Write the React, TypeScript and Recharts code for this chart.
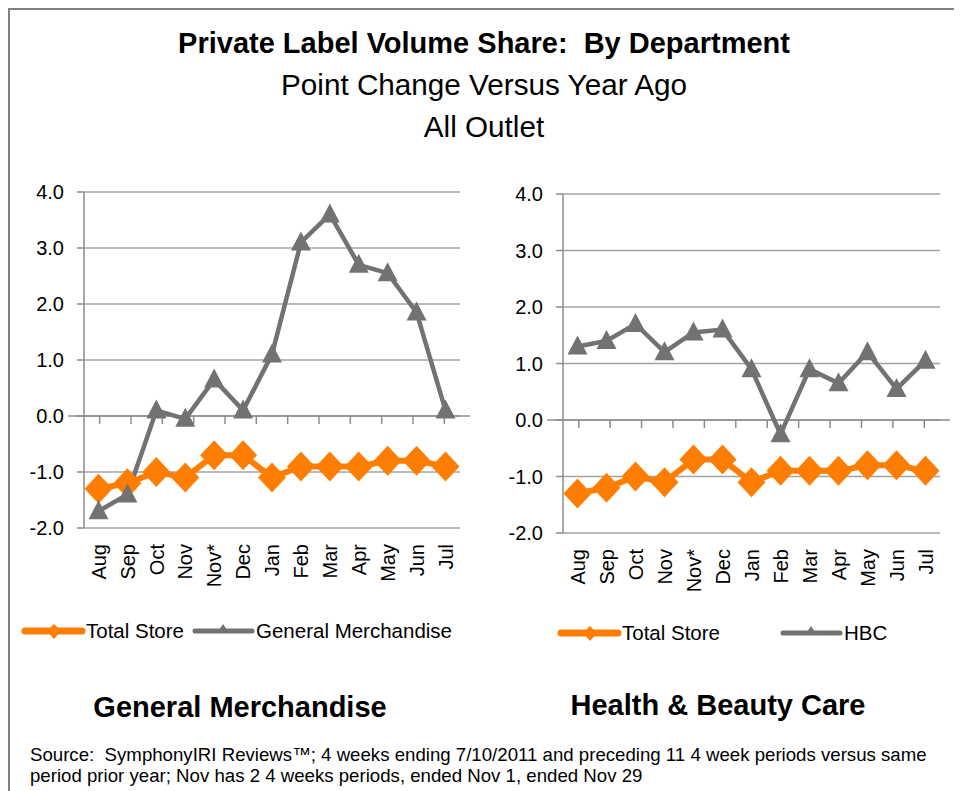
import { LineChart, Line, XAxis, YAxis, CartesianGrid, ReferenceLine } from 'recharts'

const months = ['Aug', 'Sep', 'Oct', 'Nov', 'Nov*', 'Dec', 'Jan', 'Feb', 'Mar', 'Apr', 'May', 'Jun', 'Jul']
const totalStore = [-1.3, -1.2, -1.0, -1.1, -0.7, -0.7, -1.1, -0.9, -0.9, -0.9, -0.8, -0.8, -0.9]
const generalMerchandise = [-1.7, -1.4, 0.1, -0.05, 0.65, 0.1, 1.1, 3.1, 3.6, 2.7, 2.55, 1.85, 0.1]
const hbc = [1.3, 1.4, 1.7, 1.2, 1.55, 1.6, 0.9, -0.25, 0.9, 0.65, 1.2, 0.55, 1.05]
const yTicks = [-2, -1, 0, 1, 2, 3, 4]

const ORANGE = '#FF7D00'
const GREY = '#727272'
const AXIS = '#8c8c8c'
const FONT = '"Liberation Sans", Arial, sans-serif'

function Diamond(props: any) {
  const { cx, cy } = props
  if (cx == null || cy == null) return null
  return <path d={`M${cx},${cy - 15}L${cx + 14},${cy}L${cx},${cy + 15}L${cx - 14},${cy}Z`} fill={ORANGE} />
}

function Triangle(props: any) {
  const { cx, cy } = props
  if (cx == null || cy == null) return null
  return <path d={`M${cx},${cy - 11}L${cx + 10},${cy + 8}L${cx - 10},${cy + 8}Z`} fill={GREY} />
}

function MonthTick(props: any) {
  const { x, y, payload } = props
  const ty = y + 16
  return (
    <text x={x} y={ty} dy="0.36em" textAnchor="end" fontSize={20} fill="#000" transform={`rotate(-90, ${x}, ${ty})`}>
      {payload.value}
    </text>
  )
}

// category axis sits on the zero line, tick marks between categories
function ZeroAxis(props: any) {
  const { x1, x2, y1 } = props
  const n = months.length
  const step = (x2 - x1) / (n - 1)
  const start = x1 - step / 2
  return (
    <g>
      <line x1={start} x2={x2 + step / 2} y1={y1} y2={y1} stroke={AXIS} strokeWidth={1.5} />
      {months.map((_, i) => (
        <line key={i} x1={start + (i + 1) * step} x2={start + (i + 1) * step} y1={y1} y2={y1 + 8} stroke={AXIS} strokeWidth={1.5} />
      ))}
    </g>
  )
}

function Panel({ values, left, top, margin }: { values: number[]; left: number; top: number; margin: any }) {
  const data = months.map((m, i) => ({ month: m, total: totalStore[i], dept: values[i] }))
  return (
    <div style={{ position: 'absolute', left, top }}>
      <LineChart width={450} height={420} data={data} margin={margin}>
        <CartesianGrid vertical={false} stroke="#a3a3a3" strokeWidth={1.5} />
        <XAxis
          dataKey="month"
          interval={0}
          axisLine={false}
          tickLine={false}
          tickSize={0}
          tickMargin={0}
          height={60}
          padding={{ left: 14.5, right: 14.5 }}
          tick={<MonthTick />}
        />
        <YAxis
          domain={[-2, 4]}
          ticks={yTicks}
          width={50}
          tickSize={7}
          tickMargin={13}
          tickFormatter={(v: number) => v.toFixed(1)}
          tick={{ fill: '#000', fontSize: 20 }}
          axisLine={{ stroke: AXIS, strokeWidth: 1.5 }}
          tickLine={{ stroke: AXIS, strokeWidth: 1.5 }}
        />
        <ReferenceLine y={0} shape={<ZeroAxis />} />
        <Line
          type="linear"
          dataKey="total"
          stroke={ORANGE}
          strokeWidth={6}
          dot={<Diamond />}
          activeDot={false}
          isAnimationActive={false}
        />
        <Line
          type="linear"
          dataKey="dept"
          stroke={GREY}
          strokeWidth={4.5}
          dot={<Triangle />}
          activeDot={false}
          isAnimationActive={false}
        />
      </LineChart>
    </div>
  )
}

function LegendRow({ left, top, items }: { left: number; top: number; items: { x: number; label: string; kind: 'd' | 't' }[] }) {
  return (
    <svg style={{ position: 'absolute', left, top }} width={470} height={30}>
      {items.map((it) => (
        <g key={it.label}>
          <line
            x1={it.x}
            x2={it.x + 57}
            y1={15}
            y2={15}
            stroke={it.kind === 'd' ? ORANGE : GREY}
            strokeWidth={it.kind === 'd' ? 7 : 5}
            strokeLinecap="round"
          />
          {it.kind === 'd' ? (
            <path d={`M${it.x + 29},8L${it.x + 36},15L${it.x + 29},23L${it.x + 22},15Z`} fill={ORANGE} />
          ) : (
            <path d={`M${it.x + 28},8L${it.x + 34},17L${it.x + 22},17Z`} fill={GREY} />
          )}
          <text x={it.x + 61} y={15} dy="0.36em" fontSize={20.5} fill="#000">
            {it.label}
          </text>
        </g>
      ))}
    </svg>
  )
}

export default function App() {
  return (
    <div
      style={{
        position: 'relative',
        width: 948,
        height: 800,
        border: '2px solid #7f7f7f',
        background: '#fff',
        fontFamily: FONT,
        color: '#000',
      }}
    >
      <div style={{ position: 'absolute', left: 0, width: 948, top: 16, lineHeight: '34px', textAlign: 'center', fontSize: 29, fontWeight: 'bold' }}>
        Private Label Volume Share:&nbsp; By Department
      </div>
      <div style={{ position: 'absolute', left: 0, width: 948, top: 58, lineHeight: '34px', textAlign: 'center', fontSize: 29.7 }}>
        Point Change Versus Year Ago
      </div>
      <div style={{ position: 'absolute', left: 0, width: 948, top: 100, lineHeight: '34px', textAlign: 'center', fontSize: 29.7 }}>
        All Outlet
      </div>

      <Panel values={generalMerchandise} left={10} top={170} margin={{ top: 12, right: 10, bottom: 12, left: 14 }} />
      <Panel values={hbc} left={490} top={170} margin={{ top: 14, right: 10, bottom: 7, left: 13 }} />

      <LegendRow
        left={0}
        top={606}
        items={[
          { x: 15, label: 'Total Store', kind: 'd' },
          { x: 185, label: 'General Merchandise', kind: 't' },
        ]}
      />
      <LegendRow
        left={480}
        top={608}
        items={[
          { x: 71, label: 'Total Store', kind: 'd' },
          { x: 293, label: 'HBC', kind: 't' },
        ]}
      />

      <div style={{ position: 'absolute', left: 0, width: 460, top: 680, lineHeight: '34px', textAlign: 'center', fontSize: 29, fontWeight: 'bold', whiteSpace: 'nowrap' }}>
        General Merchandise
      </div>
      <div style={{ position: 'absolute', left: 508, width: 400, top: 678, lineHeight: '34px', textAlign: 'center', fontSize: 29, fontWeight: 'bold', whiteSpace: 'nowrap' }}>
        Health &amp; Beauty Care
      </div>

      <div style={{ position: 'absolute', left: 20, top: 734, width: 925, fontSize: 18.65, lineHeight: '21px', whiteSpace: 'nowrap' }}>
        Source:&nbsp; SymphonyIRI Reviews™; 4 weeks ending 7/10/2011 and preceding 11 4 week periods versus same
        <br />
        period prior year; Nov has 2 4 weeks periods, ended Nov 1, ended Nov 29
      </div>
    </div>
  )
}
